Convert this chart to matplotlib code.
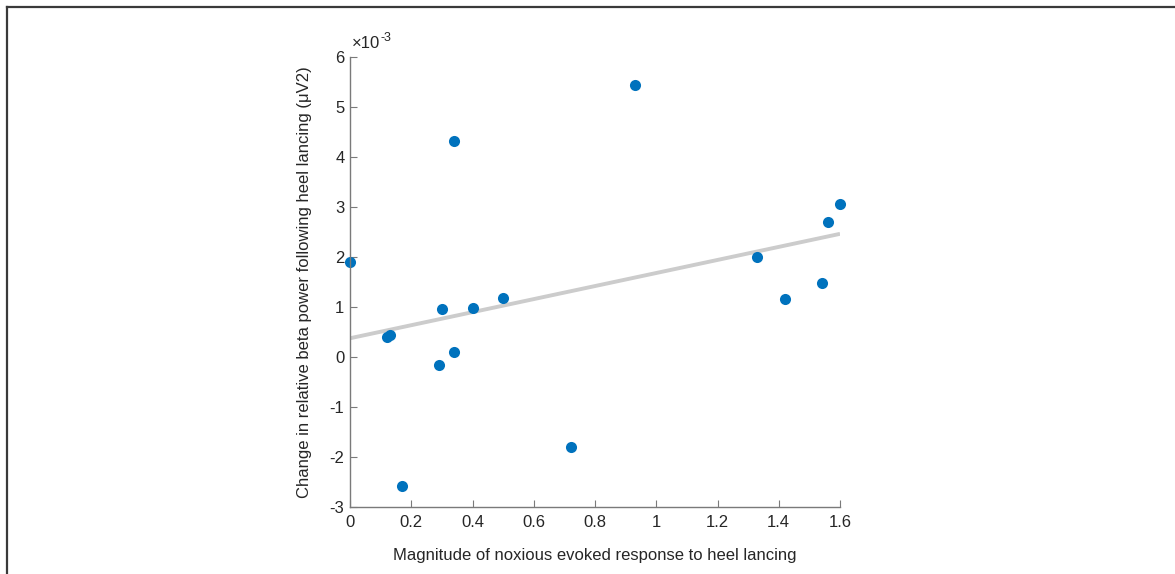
import numpy as np
import matplotlib.pyplot as plt
from matplotlib.lines import Line2D

# evoked response magnitude vs change in relative beta power (x1e-3)
magnitude = [0.0, 0.12, 0.13, 0.17, 0.29, 0.30, 0.34, 0.34, 0.40, 0.50,
             0.72, 0.93, 1.33, 1.42, 1.54, 1.56, 1.60]
beta_change = [1.90, 0.41, 0.44, -2.58, -0.16, 0.97, 4.32, 0.11, 0.98, 1.18,
               -1.80, 5.45, 2.00, 1.16, 1.48, 2.71, 3.06]
xticks = [0, 0.2, 0.4, 0.6, 0.8, 1, 1.2, 1.4, 1.6]
xticklabels = ['0', '0.2', '0.4', '0.6', '0.8', '1', '1.2', '1.4', '1.6']
yticks = list(range(-3, 7))

plt.rcParams['font.family'] = ['Liberation Sans', 'DejaVu Sans']
plt.rcParams['axes.unicode_minus'] = False

fig = plt.figure(figsize=(11.75, 5.74), dpi=100)
ax = fig.add_axes([350 / 1175, 1 - 507 / 574, 490 / 1175, 450 / 574])

# least squares fit line
slope, icpt = np.polyfit(magnitude, beta_change, 1)
xs = np.array([0, 1.6])
ax.plot(xs, icpt + slope * xs, color='#cccccc', lw=2.8, zorder=1, solid_capstyle='butt')
ax.scatter(magnitude, beta_change, s=64, color='#0072BD', zorder=2, linewidths=0, clip_on=False)

ax.set_xlim(0, 1.6)
ax.set_ylim(-3, 6)
ax.set_xticks(xticks)
ax.set_xticklabels(xticklabels)
ax.set_yticks(yticks)
for s in ['top', 'right']:
    ax.spines[s].set_visible(False)
for s in ['left', 'bottom']:
    ax.spines[s].set_color('#7a7a7a')
    ax.spines[s].set_linewidth(1.0)
ax.tick_params(direction='in', length=5, width=0.8, color='#7a7a7a',
               labelsize=12, labelcolor='#262626')
ax.tick_params(axis='x', pad=6)
ax.tick_params(axis='y', pad=4)

ax.set_xlabel('Magnitude of noxious evoked response to heel lancing',
              fontsize=12, color='#262626', labelpad=13)
ax.set_ylabel('Change in relative beta power following heel lancing (\u03bcV2)',
              fontsize=12, color='#262626', labelpad=13)
ax.text(0.004, 1.013, '\u00d710', transform=ax.transAxes,
        fontsize=12, color='#262626', ha='left', va='bottom')
ax.annotate('-3', xy=(0.004, 1.013), xycoords='axes fraction', xytext=(20.5, 5),
            textcoords='offset points', fontsize=9, color='#262626',
            ha='left', va='bottom')

# frame lines at left and top of the figure
fig.add_artist(Line2D([7 / 1175, 7 / 1175], [0, 1 - 7 / 574], color='#3a3a3a', lw=1.6))
fig.add_artist(Line2D([7 / 1175, 1], [1 - 7 / 574, 1 - 7 / 574], color='#3a3a3a', lw=1.6))

fig.savefig('out.png', dpi=100)
